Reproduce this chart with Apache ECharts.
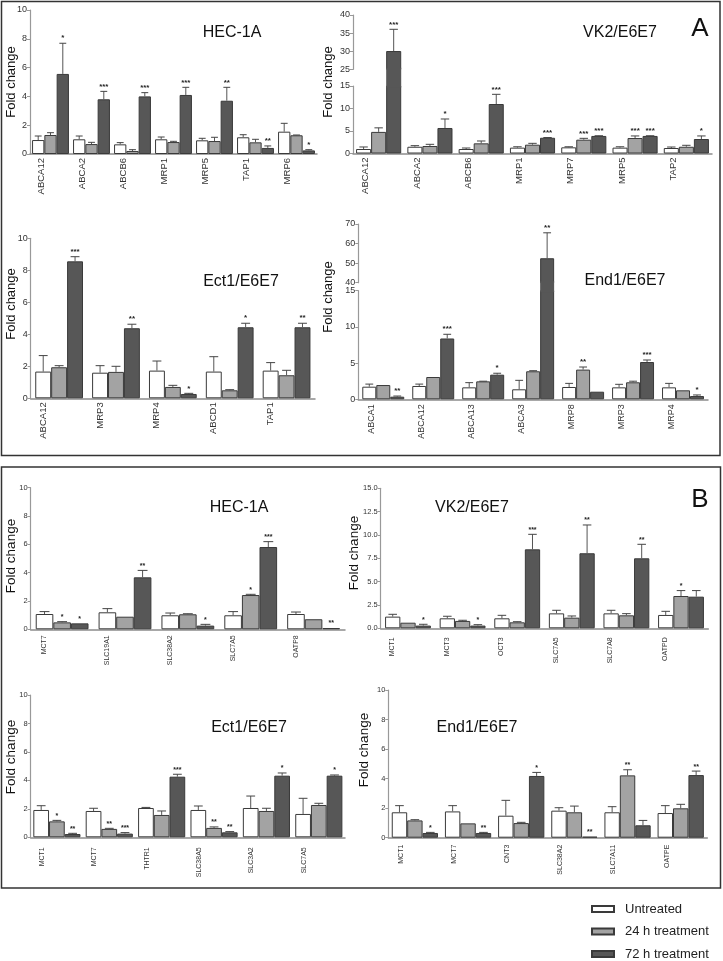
<!DOCTYPE html>
<html><head><meta charset="utf-8">
<script src="https://cdn.jsdelivr.net/npm/echarts@6/dist/echarts.min.js"></script>
<style>html,body{margin:0;padding:0;background:#fff}#c{width:723px;height:961px}</style>
</head><body><div id="c"></div><script>
const seriesNames = ['Untreated', '24 h treatment', '72 h treatment'];

// ---------- Panel A : HEC-1A ----------
const aHecCats = ['ABCA12','ABCA2','ABCB6','MRP1','MRP5','TAP1','MRP6'];
const aHecUntreated = [0.97,1.02,0.67,1.02,0.95,1.16,1.55];
const aHecUntreatedSD = [0.28,0.23,0.12,0.16,0.14,0.18,0.58];
const aHec24h = [1.32,0.69,0.21,0.83,0.90,0.81,1.30];
const aHec24hSD = [0.16,0.12,0.09,0.05,0.26,0.21,0.02];
const aHec72h = [5.56,3.80,4.00,4.10,3.70,0.42,0.25];
const aHec72hSD = [2.13,0.55,0.26,0.53,0.93,0.14,0.05];
const aHecStars24 = ['','','','','','',''];
const aHecStars72 = ['*','***','***','***','**','**','*'];

// ---------- Panel A : VK2/E6E7 ----------
const aVk2Cats = ['ABCA12','ABCA2','ABCB6','MRP1','MRP7','MRP5','TAP2'];
const aVk2Untreated = [1.00,1.50,1.00,1.30,1.37,1.30,1.22];
const aVk2UntreatedSD = [0.45,0.24,0.22,0.20,0.13,0.20,0.22];
const aVk224h = [4.80,1.67,2.26,1.96,3.07,3.44,1.50];
const aVk224hSD = [0.90,0.37,0.52,0.30,0.30,0.46,0.32];
const aVk272h = [30.05,5.67,11.00,3.50,3.90,3.90,3.22];
const aVk272hSD = [6.00,2.00,2.15,0.05,0.05,0.05,0.68];
const aVk2Stars24 = ['','','','','***','***',''];
const aVk2Stars72 = ['***','*','***','***','***','***','*'];

// ---------- Panel A : Ect1/E6E7 ----------
const aEctCats = ['ABCA12','MRP3','MRP4','ABCD1','TAP1'];
const aEctUntreated = [1.67,1.60,1.73,1.67,1.73];
const aEctUntreatedSD = [1.00,0.44,0.60,0.93,0.50];
const aEct24h = [1.94,1.65,0.71,0.50,1.44];
const aEct24hSD = [0.10,0.35,0.10,0.04,0.31];
const aEct72h = [8.56,4.38,0.27,4.44,4.44];
const aEct72hSD = [0.29,0.25,0.04,0.25,0.25];
const aEctStars24 = ['','','','',''];
const aEctStars72 = ['***','**','*','*','**'];

// ---------- Panel A : End1/E6E7 ----------
const aEndCats = ['ABCA1','ABCA12','ABCA13','ABCA3','MRP8','MRP3','MRP4'];
const aEndUntreated = [1.74,1.84,1.65,1.38,1.70,1.65,1.65];
const aEndUntreatedSD = [0.36,0.26,0.65,1.24,0.50,0.42,0.55];
const aEnd24h = [1.97,3.08,2.48,3.87,4.10,2.35,1.24];
const aEnd24hSD = [0,0,0.02,0.08,0.36,0.15,0];
const aEnd72h = [0.36,8.40,3.40,52.5,1.05,5.15,0.45];
const aEnd72hSD = [0.09,0.58,0.20,13.0,0,0.28,0.15];
const aEndStars24 = ['','','','','**','',''];
const aEndStars72 = ['**','***','*','**','','***','*'];

// ---------- Panel B : HEC-1A ----------
const bHecCats = ['MCT7','SLC19A1','SLC38A2','SLC7A5','OATP8'];
const bHecUntreated = [1.08,1.20,0.99,0.99,1.08];
const bHecUntreatedSD = [0.17,0.26,0.16,0.26,0.14];
const bHec24h = [0.49,0.89,1.06,2.42,0.71];
const bHec24hSD = [0.05,0,0.04,0.05,0];
const bHec72h = [0.42,3.67,0.26,5.81,0.09];
const bHec72hSD = [0,0.49,0.09,0.38,0];
const bHecStars24 = ['*','','','*',''];
const bHecStars72 = ['*','**','*','***','**'];

// ---------- Panel B : VK2/E6E7 ----------
const bVk2Cats = ['MCT1','MCT3','OCT3','SLC7A5','SLC7A8','OATPD'];
const bVk2Untreated = [1.25,1.07,1.07,1.60,1.60,1.43];
const bVk2UntreatedSD = [0.25,0.22,0.32,0.33,0.33,0.39];
const bVk224h = [0.60,0.79,0.64,1.14,1.39,3.46];
const bVk224hSD = [0,0.07,0.07,0.18,0.18,0.58];
const bVk272h = [0.29,0.29,8.46,8.04,7.50,3.39];
const bVk272hSD = [0.14,0.10,1.61,3.03,1.50,0.65];
const bVk2Stars24 = ['','','','','','*'];
const bVk2Stars72 = ['*','*','***','**','**',''];

// ---------- Panel B : Ect1/E6E7 ----------
const bEctCats = ['MCT1','MCT7','THTR1','SLC38A5','SLC3A2','SLC7A5'];
const bEctUntreated = [1.92,1.85,2.06,1.92,2.06,1.64];
const bEctUntreatedSD = [0.30,0.19,0.04,0.28,0.84,1.10];
const bEct24h = [1.12,0.59,1.57,0.66,1.85,2.27];
const bEct24hSD = [0.07,0.04,0.28,0.07,0.19,0.12];
const bEct72h = [0.23,0.26,4.26,0.35,4.33,4.33];
const bEct72hSD = [0.05,0.07,0.17,0.05,0.19,0.05];
const bEctStars24 = ['*','**','','**','',''];
const bEctStars72 = ['**','***','***','**','*','*'];

// ---------- Panel B : End1/E6E7 ----------
const bEndCats = ['MCT1','MCT7','CNT3','SLC38A2','SLC7A11','OATPE'];
const bEndUntreated = [1.72,1.78,1.49,1.83,1.72,1.67];
const bEndUntreatedSD = [0.45,0.39,1.04,0.20,0.38,0.50];
const bEnd24h = [1.17,0.97,0.99,1.72,4.22,1.99];
const bEnd24hSD = [0.05,0,0.05,0.42,0.38,0.27];
const bEnd72h = [0.32,0.32,4.18,0.07,0.84,4.24];
const bEnd72hSD = [0.04,0.04,0.24,0,0.33,0.27];
const bEndStars24 = ['','','','','**',''];
const bEndStars72 = ['*','**','*','**','','**'];

// ---------- styling / layout ----------
const FONT = "'Liberation Sans', Arial, Helvetica, sans-serif";
const FILLS = ['#ffffff', '#a3a3a3', '#575757'];

const panels = [
  {title:'HEC-1A', tx:232, ty:33, fx:11, fy:82, fs:13, cats:aHecCats,
   vals:[aHecUntreated,aHec24h,aHec72h], sds:[aHecUntreatedSD,aHec24hSD,aHec72hSD], stars:[[],aHecStars24,aHecStars72],
   L:{left:30, right:317, gap:0.10, shift:19, xFont:9.5, yFont:9, margin:4, starFont:8,
      segs:[{min:0,max:10,interval:2,y0:154,y1:10}]}},
  {title:'VK2/E6E7', tx:620, ty:33, fx:328, fy:82, fs:13, cats:aVk2Cats,
   vals:[aVk2Untreated,aVk224h,aVk272h], sds:[aVk2UntreatedSD,aVk224hSD,aVk272hSD], stars:[[],aVk2Stars24,aVk2Stars72],
   L:{left:353, right:712, gap:0.12, shift:26, xFont:9.5, yFont:9, margin:4, starFont:8,
      segs:[{min:0,max:15,interval:5,y0:153.5,y1:86},{min:15,max:25,hidden:true,y0:86,y1:69.3},{min:25,max:40,interval:5,y0:69.3,y1:15}]}},
  {title:'Ect1/E6E7', tx:241, ty:282, fx:11, fy:304, fs:13, cats:aEctCats,
   vals:[aEctUntreated,aEct24h,aEct72h], sds:[aEctUntreatedSD,aEct24hSD,aEct72hSD], stars:[[],aEctStars24,aEctStars72],
   L:{left:30.7, right:315, gap:0.16, shift:32, xFont:9.5, yFont:9, margin:4, starFont:8,
      segs:[{min:0,max:10,interval:2,y0:398.3,y1:238.3}]}},
  {title:'End1/E6E7', tx:625, ty:281, fx:328, fy:297, fs:13, cats:aEndCats,
   vals:[aEndUntreated,aEnd24h,aEnd72h], sds:[aEndUntreatedSD,aEnd24hSD,aEnd72hSD], stars:[[],aEndStars24,aEndStars72],
   L:{left:358.3, right:708, gap:0.16, shift:24, xFont:9, yFont:9, margin:5, starFont:8,
      segs:[{min:0,max:15,interval:5,y0:399.3,y1:290.7},{min:15,max:40,hidden:true,y0:290.7,y1:282.7},{min:40,max:70,interval:10,y0:282.7,y1:224}]}},
  {title:'HEC-1A', tx:239, ty:508, fx:11, fy:556, fs:13.5, cats:bHecCats,
   vals:[bHecUntreated,bHec24h,bHec72h], sds:[bHecUntreatedSD,bHec24hSD,bHec72hSD], stars:[[],bHecStars24,bHecStars72],
   L:{left:30.7, right:345, gap:0.16, shift:36, xFont:7, yFont:7.5, margin:6, starFont:7,
      segs:[{min:0,max:10,interval:2,y0:629.3,y1:487.7}]}},
  {title:'VK2/E6E7', tx:472, ty:508, fx:354, fy:553, fs:13.5, cats:bVk2Cats,
   vals:[bVk2Untreated,bVk224h,bVk272h], sds:[bVk2UntreatedSD,bVk224hSD,bVk272hSD], stars:[[],bVk2Stars24,bVk2Stars72],
   L:{left:380.7, right:708.3, gap:0.16, shift:32, xFont:7, yFont:7.5, margin:9, starFont:7, dec:1,
      segs:[{min:0,max:15,interval:2.5,y0:628.3,y1:488.3}]}},
  {title:'Ect1/E6E7', tx:249, ty:728, fx:11, fy:757, fs:13.5, cats:bEctCats,
   vals:[bEctUntreated,bEct24h,bEct72h], sds:[bEctUntreatedSD,bEct24hSD,bEct72hSD], stars:[[],bEctStars24,bEctStars72],
   L:{left:30.7, right:345, gap:0.10, shift:30, xFont:7, yFont:7.5, margin:10, starFont:7,
      segs:[{min:0,max:10,interval:2,y0:837.3,y1:695}]}},
  {title:'End1/E6E7', tx:477, ty:728, fx:364, fy:750, fs:13.5, cats:bEndCats,
   vals:[bEndUntreated,bEnd24h,bEnd72h], sds:[bEndUntreatedSD,bEnd24hSD,bEnd72hSD], stars:[[],bEndStars24,bEndStars72],
   L:{left:388.3, right:707.3, gap:0.13, shift:28, xFont:7, yFont:7.5, margin:7, starFont:7,
      segs:[{min:0,max:10,interval:2,y0:837.7,y1:690}]}}
];

const grids = [], xAxes = [], yAxes = [], series = [];
const graphics = [
  {type:'rect', shape:{x:1.5, y:1.5, width:718.5, height:454}, style:{fill:'none', stroke:'#333', lineWidth:1.5}},
  {type:'rect', shape:{x:1.5, y:467, width:719, height:421}, style:{fill:'none', stroke:'#333', lineWidth:1.5}},
  {type:'text', x:700, y:29, style:{text:'A', font:'26px ' + FONT, fill:'#111', align:'center', verticalAlign:'middle'}},
  {type:'text', x:700, y:500, style:{text:'B', font:'26px ' + FONT, fill:'#111', align:'center', verticalAlign:'middle'}}
];

function makeErr(p, k, gap, seg) {
  return function (params, api) {
    const i = api.value(0), v = api.value(1), e = api.value(2);
    const topVal = v + e;
    if (topVal < seg.min || topVal > seg.max) return {type:'group', children:[]};
    const band = api.size([1, 0])[0];
    const bw = band * (1 - gap) / 3;
    const base = api.coord([i, Math.max(v, seg.min)]);
    const x = base[0] + (k - 1) * bw;
    const yv = base[1];
    const yt = api.coord([i, topVal])[1];
    const children = [];
    if (e > 0) {
      const hw = bw * 0.28;
      children.push({type:'line', shape:{x1:x, y1:yv, x2:x, y2:yt}, style:{stroke:'#555', lineWidth:1}});
      children.push({type:'line', shape:{x1:x - hw, y1:yt, x2:x + hw, y2:yt}, style:{stroke:'#444', lineWidth:1}});
    }
    const st = (p.stars[k] || [])[params.dataIndex] || '';
    if (st) {
      children.push({type:'text', x:x, y:yt - 1, style:{text:st, font:'bold ' + p.L.starFont + 'px ' + FONT, fill:'#222', align:'center', verticalAlign:'bottom'}});
    }
    return {type:'group', children:children};
  };
}

panels.forEach(p => {
  const L = p.L;
  L.segs.forEach((s, si) => {
    const gi = grids.length;
    const top = s.hidden ? s.y1 - 1.5 : s.y1;
    const h = s.hidden ? (s.y0 - s.y1) + 3 : (s.y0 - s.y1);
    grids.push({left:L.left, top:top, width:L.right - L.left, height:h, outerBoundsMode:'none', containLabel:false});
    xAxes.push({
      type:'category', gridIndex:gi, data:p.cats, show: si === 0,
      axisLine:{show:true, lineStyle:{color:'#8c8c8c', width:1.5}},
      axisTick:{show:false},
      axisLabel:{show:true, interval:0, rotate:90, fontSize:L.xFont, fontFamily:FONT, color:'#333',
                 margin:L.margin, verticalAlign:'bottom', lineHeight:L.shift},
      splitLine:{show:false}
    });
    yAxes.push({
      type:'value', gridIndex:gi, min:s.min, max:s.max, interval:s.interval || 5, show: !s.hidden,
      axisLine:{show:true, lineStyle:{color:'#999', width:1.2}},
      axisTick:{show:true, length:3, lineStyle:{color:'#999'}},
      axisLabel:{fontSize:L.yFont, fontFamily:FONT, color:'#333', margin:3,
                 formatter: L.dec ? (v => v.toFixed(L.dec)) : (v => String(v))},
      splitLine:{show:false}
    });
    for (let k = 0; k < 3; k++) {
      series.push({
        type:'bar', name:seriesNames[k], xAxisIndex:gi, yAxisIndex:gi, data:p.vals[k],
        barGap:'0%', barCategoryGap:(L.gap * 100) + '%', clip:true, silent:true, z: s.hidden ? 3 : 2,
        itemStyle:{color:FILLS[k], borderColor:'#3a3a3a', borderWidth: s.hidden ? 0 : 1}
      });
    }
    if (!s.hidden) {
      for (let k = 0; k < 3; k++) {
        series.push({
          type:'custom', name:seriesNames[k] + ' SD', xAxisIndex:gi, yAxisIndex:gi, silent:true, z:5,
          encode:{x:0, y:1},
          data:p.cats.map((c, i) => [i, p.vals[k][i], p.sds[k][i]]),
          renderItem: makeErr(p, k, L.gap, s)
        });
      }
    }
  });
  graphics.push({type:'text', x:p.tx, y:p.ty, style:{text:p.title, font:'16px ' + FONT, fill:'#111', align:'center', verticalAlign:'middle'}});
  graphics.push({type:'text', x:p.fx, y:p.fy, rotation:Math.PI / 2, style:{text:'Fold change', font:p.fs + 'px ' + FONT, fill:'#111', align:'center', verticalAlign:'middle'}});
});

const legendTops = [902, 924.5, 947];
const legends = seriesNames.map((n, i) => ({
  orient:'vertical', left:591, top:legendTops[i], padding:0, itemWidth:22, itemHeight:6, icon:'rect',
  selectedMode:false, data:[n],
  textStyle:{fontSize:13, fontFamily:FONT, color:'#222', lineHeight:14, padding:[0,0,0,6]}
}));

const chart = echarts.init(document.getElementById('c'), null, {renderer:'canvas', width:723, height:961});
chart.setOption({
  animation:false,
  backgroundColor:'#ffffff',
  grid:grids, xAxis:xAxes, yAxis:yAxes, series:series,
  legend:legends,
  graphic:graphics
});
</script></body></html>
